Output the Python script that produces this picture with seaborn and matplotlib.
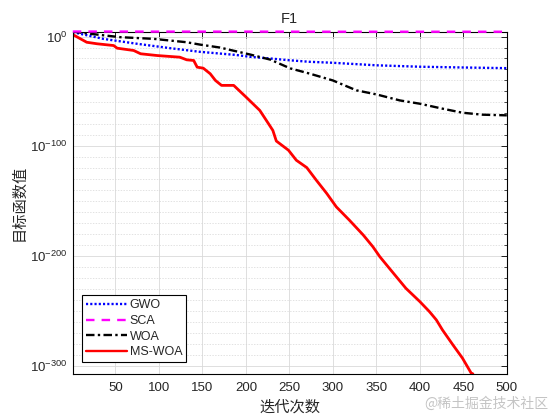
import numpy as np
import pandas as pd
import seaborn as sns
import matplotlib
matplotlib.use('Agg')
import matplotlib.pyplot as plt
from matplotlib.ticker import FixedLocator, FuncFormatter, NullFormatter, MultipleLocator

sns.set_theme(style='white')
plt.rcParams['font.family'] = ['Liberation Sans', 'Noto Sans CJK SC', 'DejaVu Sans']
plt.rcParams['axes.unicode_minus'] = False

# convergence curves: iteration and log10(best fitness)
gwo_iter = [1, 36, 75, 113, 147, 189, 205, 228, 250, 273, 300, 350, 400, 450, 500]
gwo_log = [4.0, -2.1, -6.6, -10.6, -13.9, -16.8, -18.5, -20.0, -21.6, -23.0, -23.9, -26.2, -27.5, -28.2, -28.8]

sca_iter = [1, 100, 200, 300, 400, 500]
sca_log = [4.6, 4.5, 4.5, 4.4, 4.4, 4.4]

woa_iter = [1, 21, 56, 94, 132, 147, 170, 205, 228, 251, 273, 300, 327, 350, 377, 400, 426, 449, 472, 500]
woa_log = [4.5, 2.5, -0.6, -2.1, -5.2, -7.3, -10.0, -16.4, -21.0, -29.0, -33.7, -40.0, -49.0, -52.7, -58.2, -61.2, -65.7, -69.4, -71.2, -71.8]

mswoa_iter = [1, 17, 29, 48, 52, 71, 79, 98, 124, 132, 140, 144, 151, 159, 165, 172, 186, 200,
              216, 226, 231, 235, 249, 258, 270, 281, 293, 304, 319, 335, 346, 354, 365, 384,
              400, 411, 419, 426, 438, 449, 459, 461]
mswoa_log = [1.8, -5.2, -6.6, -8.2, -10.6, -12.7, -15.7, -17.3, -18.8, -21.2, -21.8, -27.9, -28.8,
             -33.9, -40.0, -44.5, -44.5, -55.0, -67.3, -79.4, -85.5, -95.2, -103.6, -112.7, -119.4,
             -130.9, -143.0, -155.2, -167.3, -180.9, -191.5, -200.6, -211.2, -229.4, -241.5,
             -250.6, -258.2, -267.3, -280.9, -293.0, -306.6, -307.3]

algos = ['GWO', 'SCA', 'WOA', 'MS-WOA']
colors = {'GWO': '#0000ff', 'SCA': '#ff00ff', 'WOA': '#000000', 'MS-WOA': '#ff0000'}
dashes = {'GWO': (0.9, 0.9), 'SCA': (3.6, 3.0), 'WOA': (3.6, 1.4, 1.0, 1.4), 'MS-WOA': ''}

frames = []
for name, it, lg in [('GWO', gwo_iter, gwo_log), ('SCA', sca_iter, sca_log),
                     ('WOA', woa_iter, woa_log), ('MS-WOA', mswoa_iter, mswoa_log)]:
    frames.append(pd.DataFrame({'iter': it, 'fit': 10.0 ** np.array(lg), 'algo': name}))
df = pd.concat(frames, ignore_index=True)

fig = plt.figure(figsize=(5.6, 4.2), dpi=100)
ax = fig.add_axes([0.13, 0.11, 0.775, 0.815])
ax.set_yscale('log')

sns.lineplot(data=df, x='iter', y='fit', hue='algo', style='algo', hue_order=algos,
             style_order=algos, palette=colors, dashes=dashes, estimator=None,
             linewidth=1.7, ax=ax)
for line in ax.get_lines():
    if line.get_color() == '#ff0000':
        line.set_linewidth(2.0)
    if line.get_color() == '#ff00ff':
        # SCA sits on the top frame, keep it drawn over the spine
        line.set_clip_on(False)
        line.set_zorder(5)

ax.set_xlim(1, 500)
ax.set_ylim(10 ** -307.3, 10 ** 4.6)

ax.xaxis.set_major_locator(MultipleLocator(50))
ax.yaxis.set_major_locator(FixedLocator([1e0, 1e-100, 1e-200, 1e-300]))
ax.yaxis.set_minor_locator(FixedLocator([10.0 ** -k for k in range(10, 301, 10) if k % 100]))
ax.yaxis.set_major_formatter(FuncFormatter(lambda v, p: r'$\mathdefault{10^{%d}}$' % round(np.log10(v))))
ax.yaxis.set_minor_formatter(NullFormatter())

ax.grid(True, which='major', color='#d9d9d9', linewidth=0.6, linestyle='-')
ax.grid(True, which='minor', axis='y', color='#d6d6d6', linewidth=0.5, linestyle=(0, (2, 2)))
ax.set_axisbelow(True)

for s in ax.spines.values():
    s.set_color('black')
    s.set_linewidth(0.8)
ax.tick_params(which='both', direction='in', top=True, right=True, color='black',
               labelsize=9.5, labelcolor='#262626')
ax.tick_params(which='major', length=4, width=0.6)
ax.tick_params(which='minor', length=2, width=0.5)
ax.tick_params(axis='x', pad=6)

ax.set_title('F1', fontsize=10.5, color='#262626', pad=6)
ax.set_xlabel('迭代次数', fontsize=11, family=['Noto Sans CJK SC'], labelpad=3)
ax.set_ylabel('目标函数值', fontsize=11, family=['Noto Sans CJK SC'], labelpad=2)

sns.move_legend(ax, 'lower left', bbox_to_anchor=(0.022, 0.034), title=None, frameon=True,
                fancybox=False, fontsize=9, handlelength=3.3, handletextpad=0.2,
                labelspacing=0.3, borderpad=0.3, borderaxespad=0)
leg = ax.get_legend()
leg.get_frame().set_edgecolor('black')
leg.get_frame().set_linewidth(0.8)
leg.get_frame().set_facecolor('white')
leg.get_frame().set_alpha(1)

fig.text(0.98, 0.04, '@稀土掘金技术社区', ha='right', va='center',
         fontsize=10, color='#c4c4c4', family=['Noto Sans CJK SC', 'DejaVu Sans'])

fig.savefig('out.png', dpi=100)
